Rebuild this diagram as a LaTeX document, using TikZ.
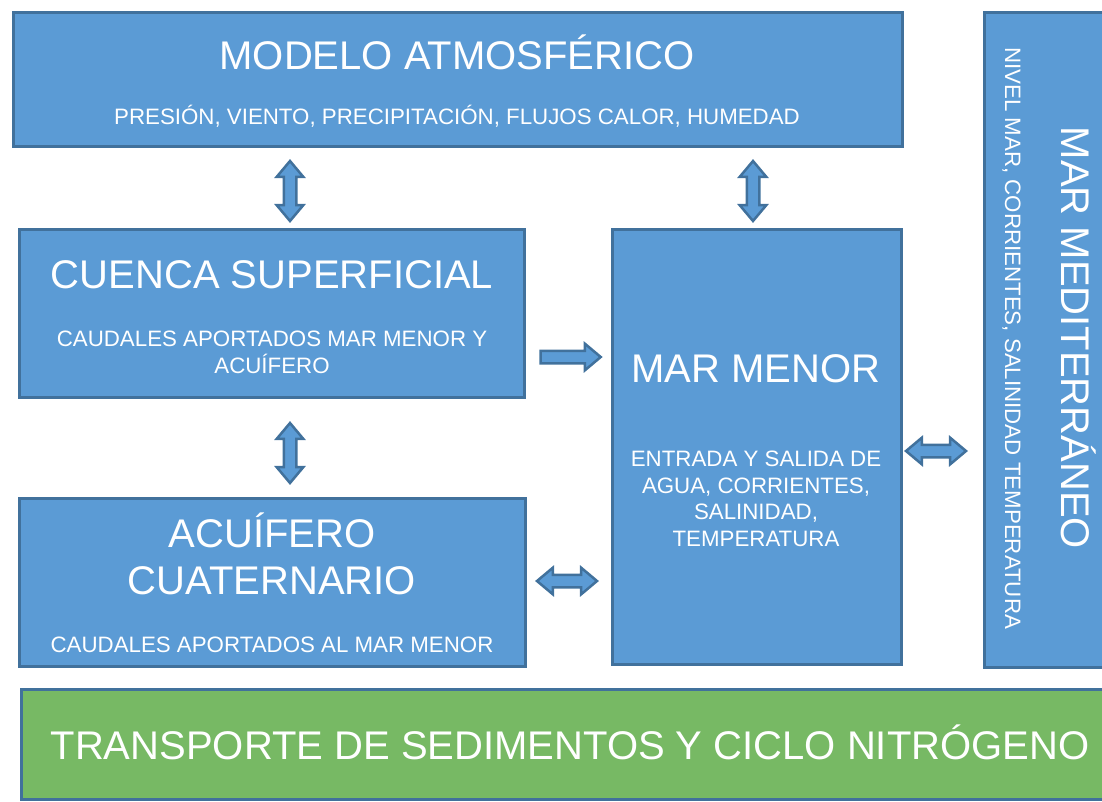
\documentclass[tikz,border=0pt]{standalone}
\usepackage{fontspec}
\setmainfont{Liberation Sans}
\usetikzlibrary{shapes.arrows}
\definecolor{boxblue}{HTML}{5B9BD5}
\definecolor{edgeblue}{HTML}{41719C}
\definecolor{boxgreen}{HTML}{77B964}
\tikzset{
  blockbox/.style={draw=edgeblue, line width=3pt, fill=boxblue, rectangle, inner sep=0pt, outer sep=0pt, anchor=north west},
  greenbox/.style={blockbox, fill=boxgreen},
  bigtxt/.style={text=white, font=\fontsize{40}{46}\selectfont, inner sep=0pt, anchor=base},
  smalltxt/.style={text=white, font=\fontsize{22.3}{26.5}\selectfont, inner sep=0pt, anchor=base},
  dblarr/.style={double arrow, draw=edgeblue, fill=boxblue, line width=2.5pt, inner xsep=0pt, inner ysep=5pt,
     double arrow head extend=7pt, double arrow tip angle=80, minimum height=60pt},
  sglarr/.style={single arrow, draw=edgeblue, fill=boxblue, line width=2.5pt, inner xsep=0pt, inner ysep=5pt,
     single arrow head extend=7pt, single arrow tip angle=80, minimum height=60pt}
}
\begin{document}
\begin{tikzpicture}[x=1pt,y=-1pt]
\useasboundingbox (0,0) rectangle (1102,801);
\clip (0,0) rectangle (1102,801);
% boxes
\node[blockbox, minimum width=889pt, minimum height=134pt] (atm) at (13,12) {};
\node[blockbox, minimum width=505pt, minimum height=168pt] (cuenca) at (19,229) {};
\node[blockbox, minimum width=506pt, minimum height=168pt] (acuif) at (19,498) {};
\node[blockbox, minimum width=289pt, minimum height=435pt] (mm) at (612,229) {};
\node[blockbox, minimum width=140pt, minimum height=655pt] (med) at (984,12) {};
\node[greenbox, minimum width=1110pt, minimum height=110pt] (trans) at (21,689) {};
% texts
\node[bigtxt] (atmT) at (457,69) {MODELO ATMOSFÉRICO};
\node[smalltxt] (atmS) at (457,124) {PRESIÓN, VIENTO, PRECIPITACIÓN, FLUJOS CALOR, HUMEDAD};
\node[bigtxt] (cuencaT) at (272,288) {CUENCA SUPERFICIAL};
\node[smalltxt] (cuencaS1) at (272,346) {CAUDALES APORTADOS MAR MENOR Y};
\node[smalltxt] (cuencaS2) at (272,373) {ACUÍFERO};
\node[bigtxt] (acuifT1) at (272,547) {ACUÍFERO};
\node[bigtxt] (acuifT2) at (272,594) {CUATERNARIO};
\node[smalltxt] (acuifS) at (272,652) {CAUDALES APORTADOS AL MAR MENOR};
\node[bigtxt] (mmT) at (756,382) {MAR MENOR};
\node[smalltxt] (mmS1) at (756,466) {ENTRADA Y SALIDA DE};
\node[smalltxt] (mmS2) at (756,493) {AGUA, CORRIENTES,};
\node[smalltxt] (mmS3) at (756,519) {SALINIDAD,};
\node[smalltxt] (mmS4) at (756,546) {TEMPERATURA};
\node[bigtxt, rotate=-90] (medT) at (1061,338) {MAR MEDITERRÁNEO};
\node[smalltxt, rotate=-90] (medS) at (1005,338) {NIVEL MAR, CORRIENTES, SALINIDAD TEMPERATURA};
\node[bigtxt] (transT) at (570,759) {TRANSPORTE DE SEDIMENTOS Y CICLO NITRÓGENO};
% arrows
\node[dblarr, rotate=90] (a1) at (290,191) {};
\node[dblarr, rotate=90] (a2) at (753,191) {};
\node[dblarr, rotate=90] (a3) at (290,453) {};
\node[sglarr] (a4) at (567,357) {};
\node[dblarr] (a5) at (567,581) {};
\node[dblarr] (a6) at (936,451) {};
\end{tikzpicture}
\end{document}
